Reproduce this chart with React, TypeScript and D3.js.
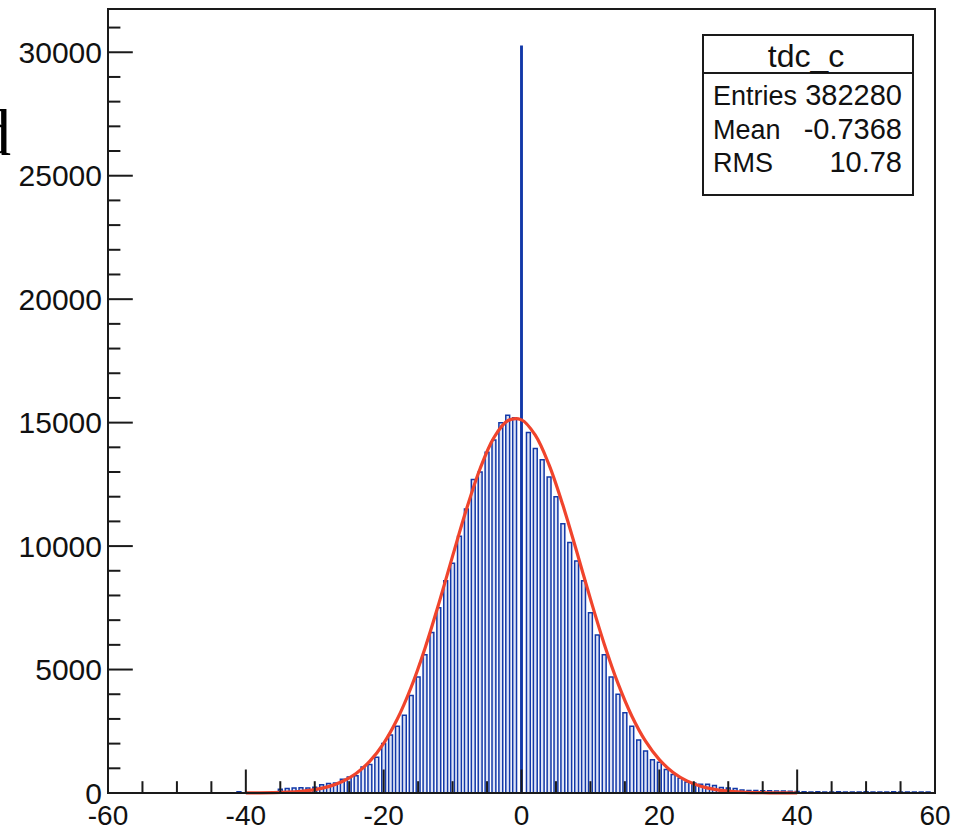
import React, { useEffect, useRef } from "react";
import * as d3 from "d3";

// histogram tdc_c, bins of width 1 starting at firstBin
const firstBin = -41;
const counts = [
  50, 0, 0, 0, 0, 0, 150, 180, 200, 210, 200, 230, 330, 380, 400, 560, 650, 700,
  1050, 1150, 1450, 2000, 2350, 2700, 3150, 3950, 4700, 5600, 6500, 7500, 8600,
  9300, 10400, 11500, 12700, 13000, 13800, 14300, 15000, 15300, 15200,
  30240,
  14600, 13950, 13500, 12800, 12000, 10900, 10150, 9400, 8600, 7300, 6400, 5600,
  4700, 4000, 3250, 2700, 2150, 1700, 1350, 1250, 950, 750, 600, 450, 400, 350,
  350, 300, 220, 200, 180, 120, 100, 100, 90, 90, 80, 80, 70, 60,
  50, 45, 50, 40, 45, 50, 40, 45, 40, 50, 45, 40, 45, 50, 40, 45, 40, 45, 40,
];

// gaus fit, sampled every 2 units over the fit range
const fitX = [
  -40, -38, -36, -34, -32, -30, -28, -26, -24, -22, -20, -18, -16, -14, -12, -10,
  -8, -6, -4, -2, 0, 2, 4, 6, 8, 10, 12, 14, 16, 18, 20, 22, 24, 26, 28, 30, 32,
  34, 36, 38, 40,
];
const fitY = [
  3, 7, 16, 35, 72, 139, 259, 463, 790, 1289, 2011, 3004, 4293, 5867, 7671, 9594,
  11481, 13143, 14394, 15078, 15112, 14490, 13289, 11660, 9788, 7860, 6037, 4437,
  3120, 2098, 1350, 831, 489, 276, 148, 76, 38, 18, 8, 3, 1,
];

const statsTitle = "tdc_c";
const statsRows = [
  ["Entries", "382280"],
  ["Mean", "-0.7368"],
  ["RMS", "10.78"],
];

const xTicks = [-60, -40, -20, 0, 20, 40, 60];
const yTicks = [0, 5000, 10000, 15000, 20000, 25000, 30000];

const W = 967;
const H = 829;

const App = () => {
  const svgRef = useRef(null);

  useEffect(() => {
    const svg = d3.select(svgRef.current);
    svg.selectAll("*").remove();

    const left = 108, right = 935, top = 9, bottom = 793;
    const x = d3.scaleLinear().domain([-60, 60]).range([left, right]);
    const y = d3.scaleLinear().domain([0, 31752]).range([bottom, top]);
    const font = "'Liberation Sans', Arial, Helvetica, sans-serif";

    // the cut-off letter at the left edge
    svg
      .append("text")
      .attr("x", -22)
      .attr("y", 155)
      .attr("font-family", "'Liberation Serif', 'Times New Roman', serif")
      .attr("font-size", 66)
      .text("d");

    // histogram
    const bars = svg.append("g");
    counts.forEach((c, i) => {
      if (c <= 0) return;
      const k = firstBin + i;
      const half = k === 0 ? 0.1 : 0.28;
      const x0 = x(k - half), x1 = x(k + half);
      bars
        .append("path")
        .attr("d", `M${x0},${y(0)}V${y(c)}H${x1}V${y(0)}`)
        .attr("fill", "#dde3f6")
        .attr("stroke", "#1238a8")
        .attr("stroke-width", 1.5);
    });

    // fit
    const line = d3
      .line()
      .x((d) => x(d[0]))
      .y((d) => y(d[1]))
      .curve(d3.curveCatmullRom);
    svg
      .append("path")
      .datum(fitX.map((v, i) => [v, fitY[i]]))
      .attr("d", line)
      .attr("fill", "none")
      .attr("stroke", "#f0442c")
      .attr("stroke-width", 3.2);

    // frame
    svg
      .append("rect")
      .attr("x", left)
      .attr("y", top)
      .attr("width", right - left)
      .attr("height", bottom - top)
      .attr("fill", "none")
      .attr("stroke", "#1a1a1a")
      .attr("stroke-width", 2);

    // ticks
    const g = svg.append("g").attr("stroke", "#1a1a1a").attr("stroke-width", 2);
    d3.range(-60, 61, 5).forEach((v) => {
      const len = v % 20 === 0 ? 23.5 : 11.8;
      g.append("line")
        .attr("x1", x(v)).attr("x2", x(v))
        .attr("y1", bottom).attr("y2", bottom - len);
    });
    d3.range(0, 31001, 1000).forEach((v) => {
      const len = v % 5000 === 0 ? 24.8 : 12.4;
      g.append("line")
        .attr("x1", left).attr("x2", left + len)
        .attr("y1", y(v)).attr("y2", y(v));
    });

    svg
      .append("g")
      .selectAll("text")
      .data(xTicks)
      .enter()
      .append("text")
      .attr("x", (d) => x(d))
      .attr("y", 825)
      .attr("text-anchor", "middle")
      .attr("font-family", font)
      .attr("font-size", 28)
      .attr("fill", "#111")
      .text((d) => String(d));

    svg
      .append("g")
      .selectAll("text")
      .data(yTicks)
      .enter()
      .append("text")
      .attr("x", 102)
      .attr("y", (d) => y(d) + 10.5)
      .attr("text-anchor", "end")
      .attr("font-family", font)
      .attr("font-size", 30)
      .attr("fill", "#111")
      .text((d) => String(d));

    // stats box
    const sb = svg.append("g");
    sb.append("rect")
      .attr("x", 703).attr("y", 35).attr("width", 210).attr("height", 160)
      .attr("fill", "#fff").attr("stroke", "#1a1a1a").attr("stroke-width", 2);
    sb.append("line")
      .attr("x1", 703).attr("x2", 913).attr("y1", 73).attr("y2", 73)
      .attr("stroke", "#1a1a1a").attr("stroke-width", 2);
    sb.append("text")
      .attr("x", 806).attr("y", 67)
      .attr("text-anchor", "middle")
      .attr("font-family", font).attr("font-size", 32).attr("fill", "#111")
      .text(statsTitle);
    statsRows.forEach((r, i) => {
      const yy = 105 + i * 33.5;
      sb.append("text")
        .attr("x", 713).attr("y", yy)
        .attr("font-family", font).attr("font-size", 27).attr("fill", "#111")
        .text(r[0]);
      sb.append("text")
        .attr("x", 902).attr("y", yy)
        .attr("text-anchor", "end")
        .attr("font-family", font).attr("font-size", 29).attr("fill", "#111")
        .text(r[1]);
    });
  }, []);

  return (
    <svg
      ref={svgRef}
      width={W}
      height={H}
      style={{ position: "absolute", left: 0, top: 0, background: "#fff" }}
    ></svg>
  );
};

export default App;
